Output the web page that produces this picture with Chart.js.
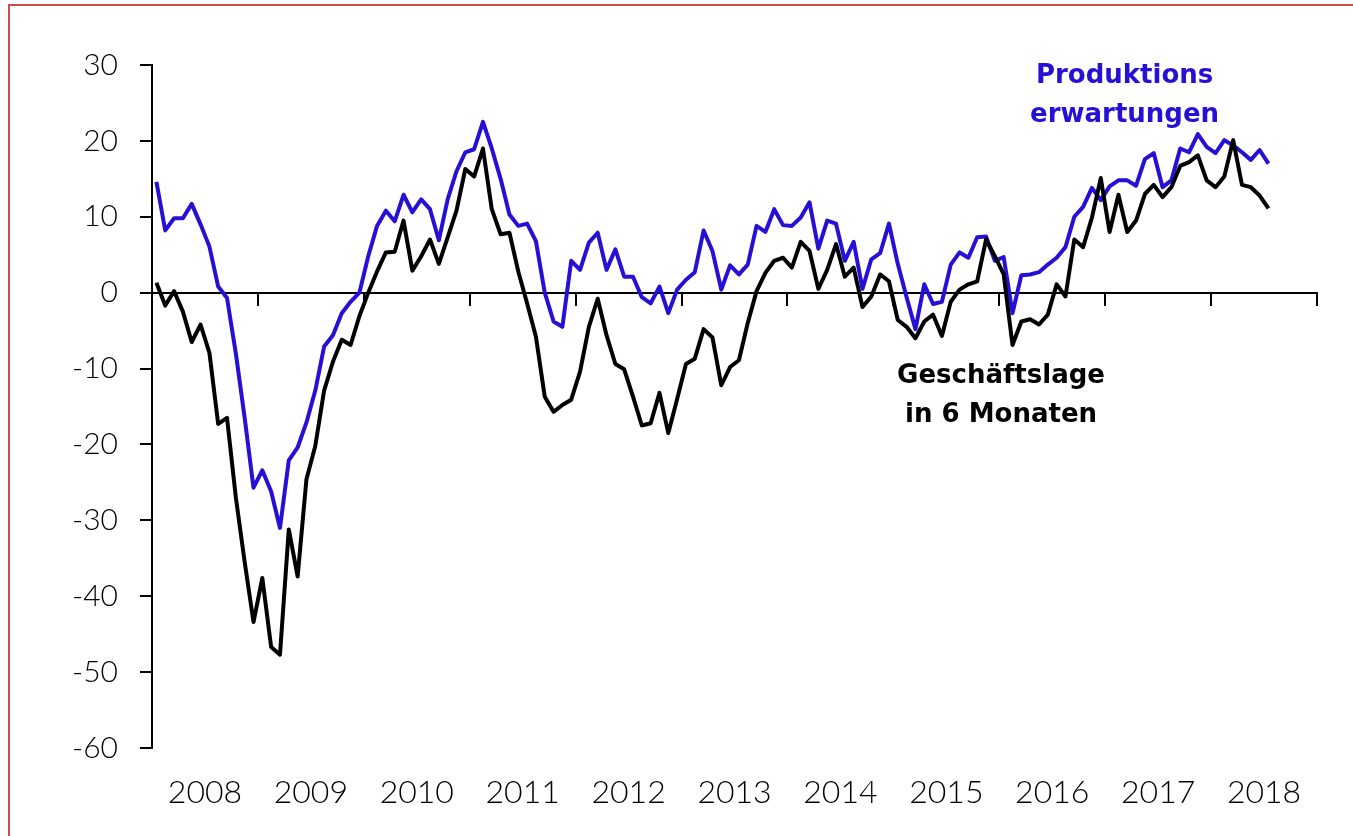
<!doctype html>
<html lang="de">
<head>
<meta charset="utf-8">
<title>Produktionserwartungen und Geschäftslage</title>
<script src="https://cdn.jsdelivr.net/npm/chart.js@4.4.0/dist/chart.umd.min.js"></script>
<style>
    html, body { margin: 0; padding: 0; background: #fff; overflow: hidden; }
    .wrap { position: relative; width: 1353px; height: 836px; }
    .frame { position: absolute; left: 8px; top: 4px; width: 1400px; height: 900px; border: 2px solid #cf4a4a; pointer-events: none; }
</style>
</head>
<body>
<div class="wrap">
    <canvas id="chart"></canvas>
    <div class="frame"></div>
</div>
<script>
    // monatliche Werte ab Januar 2008
    const years = ['2008', '2009', '2010', '2011', '2012', '2013', '2014', '2015', '2016', '2017', '2018'];

    const produktion = [
        14.6, 8.2, 9.8, 9.8, 11.7, 9.0, 6.1, 0.8, -0.7, -8.0, -16.5, -25.7,
        -23.4, -26.2, -31.0, -22.1, -20.4, -17.1, -12.9, -7.1, -5.6, -2.7, -1.2, 0.0,
        4.8, 8.8, 10.8, 9.4, 12.9, 10.6, 12.3, 11.0, 6.9, 12.3, 16.0, 18.5,
        18.9, 22.5, 19.0, 15.0, 10.3, 8.8, 9.1, 6.8, 0.0, -3.8, -4.5, 4.2,
        3.0, 6.6, 7.9, 3.0, 5.7, 2.1, 2.1, -0.6, -1.4, 0.8, -2.7, 0.4,
        1.7, 2.7, 8.2, 5.5, 0.4, 3.6, 2.4, 3.7, 8.8, 8.0, 11.0, 8.9,
        8.8, 9.9, 11.9, 5.8, 9.5, 9.1, 4.2, 6.7, 0.5, 4.4, 5.2, 9.1,
        3.8, -0.6, -4.8, 1.1, -1.5, -1.2, 3.7, 5.3, 4.6, 7.3, 7.4, 4.2,
        4.7, -2.7, 2.3, 2.4, 2.7, 3.7, 4.6, 6.0, 10.0, 11.3, 13.8, 12.2,
        14.0, 14.8, 14.8, 14.1, 17.6, 18.4, 13.9, 14.8, 19.0, 18.5, 20.9, 19.2,
        18.4, 20.1, 19.4, 18.5, 17.5, 18.8, 17.0
    ];

    const geschaeftslage = [
        1.3, -1.7, 0.2, -2.5, -6.5, -4.2, -7.9, -17.3, -16.5, -27.0, -35.5, -43.4,
        -37.6, -46.7, -47.7, -31.2, -37.4, -24.6, -20.2, -12.9, -9.1, -6.2, -6.9, -3.1,
        0.0, 2.8, 5.3, 5.4, 9.5, 2.9, 4.8, 7.0, 3.8, 7.3, 10.8, 16.3,
        15.3, 19.0, 11.0, 7.7, 7.9, 2.8, -1.4, -5.8, -13.7, -15.7, -14.8, -14.1,
        -10.4, -4.5, -0.8, -5.6, -9.4, -10.1, -13.7, -17.5, -17.2, -13.2, -18.5, -14.0,
        -9.4, -8.7, -4.8, -5.9, -12.2, -9.8, -8.9, -4.0, 0.2, 2.6, 4.2, 4.6,
        3.3, 6.7, 5.5, 0.5, 3.0, 6.4, 2.1, 3.3, -1.9, -0.5, 2.4, 1.5,
        -3.6, -4.5, -6.0, -3.8, -2.9, -5.7, -1.2, 0.4, 1.1, 1.5, 7.0, 4.8,
        2.4, -6.9, -3.8, -3.5, -4.2, -2.9, 1.1, -0.5, 7.0, 6.0, 9.9, 15.1,
        8.0, 12.9, 8.0, 9.5, 13.0, 14.2, 12.6, 13.9, 16.7, 17.2, 18.1, 14.8,
        13.9, 15.3, 20.1, 14.2, 13.9, 12.8, 11.1
    ];

    const blau = '#2610d6';
    const months = years.length * 12;

    Chart.defaults.font.family = 'Lato, "Liberation Sans", sans-serif';
    Chart.defaults.font.weight = '300';
    Chart.defaults.color = '#000';

    // Punkt liegt in der Mitte des Monats
    const toPoints = arr => arr.map((v, i) => ({x: i + 0.5, y: v}));

    // Beschriftungen im Diagramm
    const beschriftung = {
        id: 'beschriftung',
        afterDatasetsDraw(chart) {
            const {ctx, scales: {x, y}} = chart;
            const notes = [
                {text: 'Produktions', mx: 110.2, v: 28.5, color: blau},
                {text: 'erwartungen', mx: 110.2, v: 23.4, color: blau},
                {text: 'Geschäftslage', mx: 96.2, v: -11.0, color: '#000'},
                {text: 'in 6 Monaten', mx: 96.2, v: -16.1, color: '#000'}
            ];
            ctx.save();
            ctx.font = 'bold 26px "DejaVu Sans", sans-serif';
            ctx.textAlign = 'center';
            ctx.textBaseline = 'middle';
            notes.forEach(n => {
                ctx.fillStyle = n.color;
                ctx.fillText(n.text, x.getPixelForValue(n.mx), y.getPixelForValue(n.v));
            });
            ctx.restore();
        }
    };

    new Chart(document.getElementById('chart').getContext('2d'), {
        type: 'line',
        data: {
            datasets: [{
                label: 'Geschäftslage in 6 Monaten',
                data: toPoints(geschaeftslage),
                borderColor: '#000',
                borderWidth: 4,
                borderJoinStyle: 'round',
                pointRadius: 0,
                tension: 0,
                fill: false
            }, {
                label: 'Produktionserwartungen',
                data: toPoints(produktion),
                borderColor: blau,
                borderWidth: 4,
                borderJoinStyle: 'round',
                pointRadius: 0,
                tension: 0,
                fill: false
            }]
        },
        options: {
            responsive: true,
            maintainAspectRatio: false,
            animation: false,
            events: [],
            layout: {padding: {left: 0, top: 65, right: 36, bottom: 0}},
            plugins: {legend: {display: false}, tooltip: {enabled: false}},
            scales: {
                x: {
                    type: 'linear',
                    position: {y: 0},
                    min: 0,
                    max: months,
                    ticks: {display: false, stepSize: 12},
                    grid: {drawOnChartArea: false, drawTicks: true, tickLength: 12, color: '#000', lineWidth: 2},
                    border: {display: true, color: '#000', width: 2}
                },
                jahre: {
                    type: 'linear',
                    axis: 'x',
                    position: 'bottom',
                    min: 0,
                    max: months,
                    afterBuildTicks: s => { s.ticks = years.map((_, i) => ({value: i * 12 + 6})); },
                    afterFit: s => { s.height = 88; },
                    ticks: {
                        autoSkip: false,
                        maxRotation: 0,
                        padding: 25,
                        font: {size: 32},
                        callback: (v, i) => years[i]
                    },
                    grid: {display: false, drawTicks: false},
                    border: {display: false}
                },
                y: {
                    min: -60,
                    max: 30,
                    afterFit: s => { s.width = 152; },
                    ticks: {stepSize: 10, padding: 22, font: {size: 30}},
                    grid: {drawOnChartArea: false, drawTicks: true, tickLength: 12, color: '#000', lineWidth: 2},
                    border: {display: true, color: '#000', width: 2}
                }
            }
        },
        plugins: [beschriftung]
    });
</script>
</body>
</html>
